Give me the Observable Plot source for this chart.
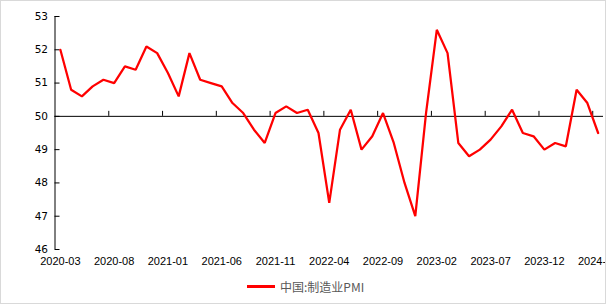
<!DOCTYPE html>
<html>
<head>
<meta charset="utf-8">
<script src="https://cdn.jsdelivr.net/npm/d3@7"></script>
<script src="https://cdn.jsdelivr.net/npm/@observablehq/plot@0.6"></script>
<style>
  html, body { margin: 0; padding: 0; background: #fff; }
  #wrap { position: relative; width: 606px; height: 304px; box-sizing: border-box; border: 1px solid #d9d9d9; overflow: hidden; background: #fff; }
  #chart svg { display: block; overflow: hidden; }
  #legend { position: absolute; top: 275px; left: 246px; height: 20px; display: flex; align-items: center; font-family: "Noto Sans CJK SC", sans-serif; font-size: 12px; color: #595959; }
  #legend .sw { width: 28px; height: 3px; background: #ff0000; margin-right: 5px; }
</style>
</head>
<body>
<div id="wrap">
  <div id="chart"></div>
  <div id="legend"><span class="sw"></span><span>中国:制造业PMI</span></div>
</div>
<script>
const startYear = 2020, startMonth = 3;
const pmi = [
  52.0, 50.8, 50.6, 50.9, 51.1, 51.0, 51.5, 51.4, 52.1, 51.9,
  51.3, 50.6, 51.9, 51.1, 51.0, 50.9, 50.4, 50.1, 49.6, 49.2, 50.1, 50.3,
  50.1, 50.2, 49.5, 47.4, 49.6, 50.2, 49.0, 49.4, 50.1, 49.2, 48.0, 47.0,
  50.1, 52.6, 51.9, 49.2, 48.8, 49.0, 49.3, 49.7, 50.2, 49.5, 49.4, 49.0,
  49.2, 49.1, 50.8, 50.4, 49.5
];
const xTickLabels = ["2020-03","2020-08","2021-01","2021-06","2021-11","2022-04","2022-09","2023-02","2023-07","2023-12","2024-05"];
const yTicks = [46, 47, 48, 49, 50, 51, 52, 53];
const seriesName = "中国:制造业PMI";

const months = pmi.map((_, i) => {
  const m = startMonth - 1 + i;
  return `${startYear + Math.floor(m / 12)}-${String(m % 12 + 1).padStart(2, "0")}`;
});
const data = pmi.map((v, i) => ({i, month: months[i], v}));
const labelIdx = xTickLabels.map(l => months.indexOf(l));

const W = 604, H = 274, mL = 53.5, mR = 2, mT = 15, mB = 26;
const plotW = W - mL - mR, plotH = H - mT - mB;
const xDom = [-0.5, pmi.length - 0.5];
const yDom = [46, 53];
const tickLen = 5;
const yPerPx = (yDom[1] - yDom[0]) / plotH;
const baseline = 50;

const chart = Plot.plot({
  width: W, height: H,
  marginLeft: mL, marginRight: mR, marginTop: mT, marginBottom: mB,
  x: {domain: xDom, axis: null},
  y: {domain: yDom, axis: null},
  style: {background: "transparent"},
  marks: [
    // y axis line
    Plot.ruleX([xDom[0]], {stroke: "#000", strokeWidth: 1}),
    // y ticks (inward)
    Plot.tickY(yTicks, {y: d => d, stroke: "#000", insetRight: plotW - tickLen}),
    // y labels
    Plot.text(yTicks, {y: d => d, text: d => String(d), frameAnchor: "left", dx: -7, textAnchor: "end", fontFamily: "DejaVu Sans", fontSize: 10.5, fill: "#000"}),
    // horizontal axis at 50
    Plot.ruleY([baseline], {stroke: "#000", strokeWidth: 1}),
    // x ticks (upward at category boundaries)
    Plot.ruleX(labelIdx.filter(i => i > 0), {x: i => i - 0.5, y1: baseline, y2: baseline + tickLen * yPerPx, stroke: "#000"}),
    // x labels
    Plot.text(labelIdx, {x: i => i, text: i => months[i], frameAnchor: "bottom", dy: 15, fontFamily: "Liberation Sans", fontSize: 11, fill: "#000"}),
    // series
    Plot.line(data, {x: "i", y: "v", stroke: "#ff0000", strokeWidth: 2.25, strokeLinejoin: "miter"})
  ]
});
document.getElementById("chart").appendChild(chart);
</script>
</body>
</html>
